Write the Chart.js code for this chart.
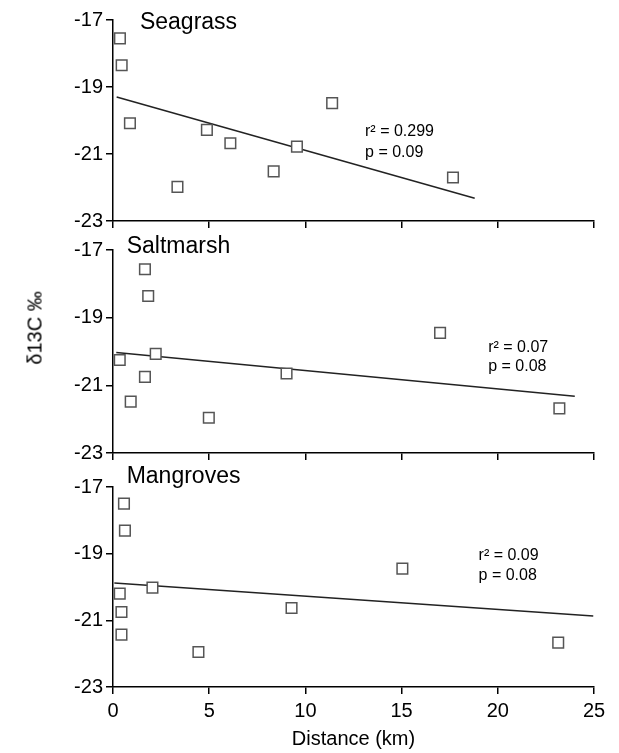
<!DOCTYPE html>
<html>
<head>
<meta charset="utf-8">
<script src="https://cdn.jsdelivr.net/npm/chart.js@4.4.0/dist/chart.umd.min.js"></script>
<style>
  html, body { margin: 0; padding: 0; background: #fff; }
  #wrap { position: relative; width: 619px; height: 753px; overflow: hidden; }
  canvas { position: absolute; left: 0; }
  #ytitle {
    position: absolute; left: 35px; top: 328px;
    transform: translate(-50%, -50%) rotate(-90deg);
    font: 20px Arial, "Liberation Sans", sans-serif; color: #000; white-space: nowrap;
  }
</style>
</head>
<body>
<div id="wrap">
  <canvas id="c1" width="619" height="236" style="top:0px"></canvas>
  <canvas id="c2" width="619" height="236" style="top:232px"></canvas>
  <canvas id="c3" width="619" height="289" style="top:464px"></canvas>
  <div id="ytitle">δ13C ‰</div>
</div>
<script>
// x ticks (km) and y ticks (δ13C ‰)
const xTicks = [0, 5, 10, 15, 20, 25];
const yTicks = [-23, -21, -19, -17];

// Seagrass
const seagrassKm   = [0.36, 0.45, 0.88, 3.35, 4.88, 6.1, 8.35, 9.56, 11.39, 17.67];
const seagrassD13C = [-17.55, -18.35, -20.08, -21.98, -20.28, -20.68, -21.52, -20.78, -19.48, -21.7];
const seagrassFitKm   = [0.19, 18.8];
const seagrassFitD13C = [-19.3, -22.32];
const seagrassStats = ["r² = 0.299", "p = 0.09"];

// Saltmarsh
const saltmarshKm   = [0.35, 1.66, 1.83, 2.22, 1.66, 0.92, 4.98, 9.02, 17.0, 23.2];
const saltmarshD13C = [-20.25, -17.57, -18.36, -20.07, -20.75, -21.48, -21.96, -20.65, -19.45, -21.68];
const saltmarshFitKm   = [0.17, 24.0];
const saltmarshFitD13C = [-20.03, -21.32];
const saltmarshStats = ["r² = 0.07", "p = 0.08"];

// Mangroves
const mangrovesKm   = [0.57, 0.62, 0.35, 0.44, 0.44, 2.05, 4.44, 9.28, 15.04, 23.14];
const mangrovesD13C = [-17.5, -18.31, -20.2, -20.75, -21.43, -20.02, -21.95, -20.63, -19.45, -21.67];
const mangrovesFitKm   = [0.07, 24.96];
const mangrovesFitD13C = [-19.88, -20.87];
const mangrovesStats = ["r² = 0.09", "p = 0.08"];

const FONT = 'Arial, "Liberation Sans", sans-serif';

const toPts = (xs, ys) => xs.map((x, i) => ({ x: x, y: ys[i] }));

// draws panel name and stats text at data positions
const panelText = {
  id: "panelText",
  afterDatasetsDraw(chart, args, opts) {
    const { ctx, scales: { x, y } } = chart;
    ctx.save();
    ctx.fillStyle = "#000";
    ctx.textBaseline = "middle";
    ctx.textAlign = "left";
    opts.items.forEach(it => {
      ctx.font = it.size + "px " + FONT;
      ctx.fillText(it.text, x.getPixelForValue(it.x), y.getPixelForValue(it.y));
    });
    ctx.restore();
  }
};

function makePanel(id, km, d13c, fitKm, fitD13C, items, opts) {
  const last = opts.last;
  return new Chart(document.getElementById(id), {
    type: "scatter",
    plugins: [panelText],
    data: {
      datasets: [
        {
          data: toPts(fitKm, fitD13C),
          showLine: true,
          borderColor: "#222",
          borderWidth: 1.5,
          pointRadius: 0,
          order: 2
        },
        {
          data: toPts(km, d13c),
          pointStyle: "rect",
          pointRadius: 7.5,
          pointBorderWidth: 1.5,
          pointBorderColor: "#555",
          pointBackgroundColor: "#fff",
          order: 1
        }
      ]
    },
    options: {
      responsive: false,
      animation: false,
      events: [],
      layout: { padding: { top: opts.top, left: 0, right: 25, bottom: 0 } },
      plugins: {
        legend: { display: false },
        tooltip: { enabled: false },
        panelText: { items: items }
      },
      scales: {
        x: {
          type: "linear",
          min: 0, max: 25,
          afterBuildTicks: s => { s.ticks = xTicks.map(v => ({ value: v })); },
          afterFit: s => { s.height = opts.xHeight; },
          border: { display: true, color: "#000", width: 1.5 },
          grid: { drawOnChartArea: false, drawTicks: true, tickLength: 7, color: "#000", lineWidth: 1.5 },
          ticks: { display: last, color: "#000", font: { size: 20, family: FONT }, padding: 5, maxRotation: 0 },
          title: { display: last, text: "Distance (km)", color: "#000", font: { size: 20, family: FONT }, padding: { top: 0, bottom: 2 } }
        },
        y: {
          min: -23, max: -17,
          afterBuildTicks: s => { s.ticks = yTicks.map(v => ({ value: v })); },
          afterFit: s => { s.width = 113; },
          border: { display: true, color: "#000", width: 1.5 },
          grid: { drawOnChartArea: false, drawTicks: true, tickLength: 7, color: "#000", lineWidth: 1.5 },
          ticks: { color: "#000", font: { size: 20, family: FONT }, padding: 3, callback: v => String(v) }
        }
      }
    }
  });
}

makePanel("c1", seagrassKm, seagrassD13C, seagrassFitKm, seagrassFitD13C, [
  { text: "Seagrass", x: 1.4, y: -17.09, size: 23 },
  { text: seagrassStats[0], x: 13.1, y: -20.32, size: 16 },
  { text: seagrassStats[1], x: 13.1, y: -20.95, size: 16 }
], { top: 20, xHeight: 12, last: false });

makePanel("c2", saltmarshKm, saltmarshD13C, saltmarshFitKm, saltmarshFitD13C, [
  { text: "Saltmarsh", x: 0.71, y: -16.9, size: 23 },
  { text: saltmarshStats[0], x: 19.5, y: -19.88, size: 16 },
  { text: saltmarshStats[1], x: 19.5, y: -20.45, size: 16 }
], { top: 18, xHeight: 12, last: false });

makePanel("c3", mangrovesKm, mangrovesD13C, mangrovesFitKm, mangrovesFitD13C, [
  { text: "Mangroves", x: 0.71, y: -16.7, size: 23 },
  { text: mangrovesStats[0], x: 19.0, y: -19.05, size: 16 },
  { text: mangrovesStats[1], x: 19.0, y: -19.65, size: 16 }
], { top: 23, xHeight: 66, last: true });
</script>
</body>
</html>
